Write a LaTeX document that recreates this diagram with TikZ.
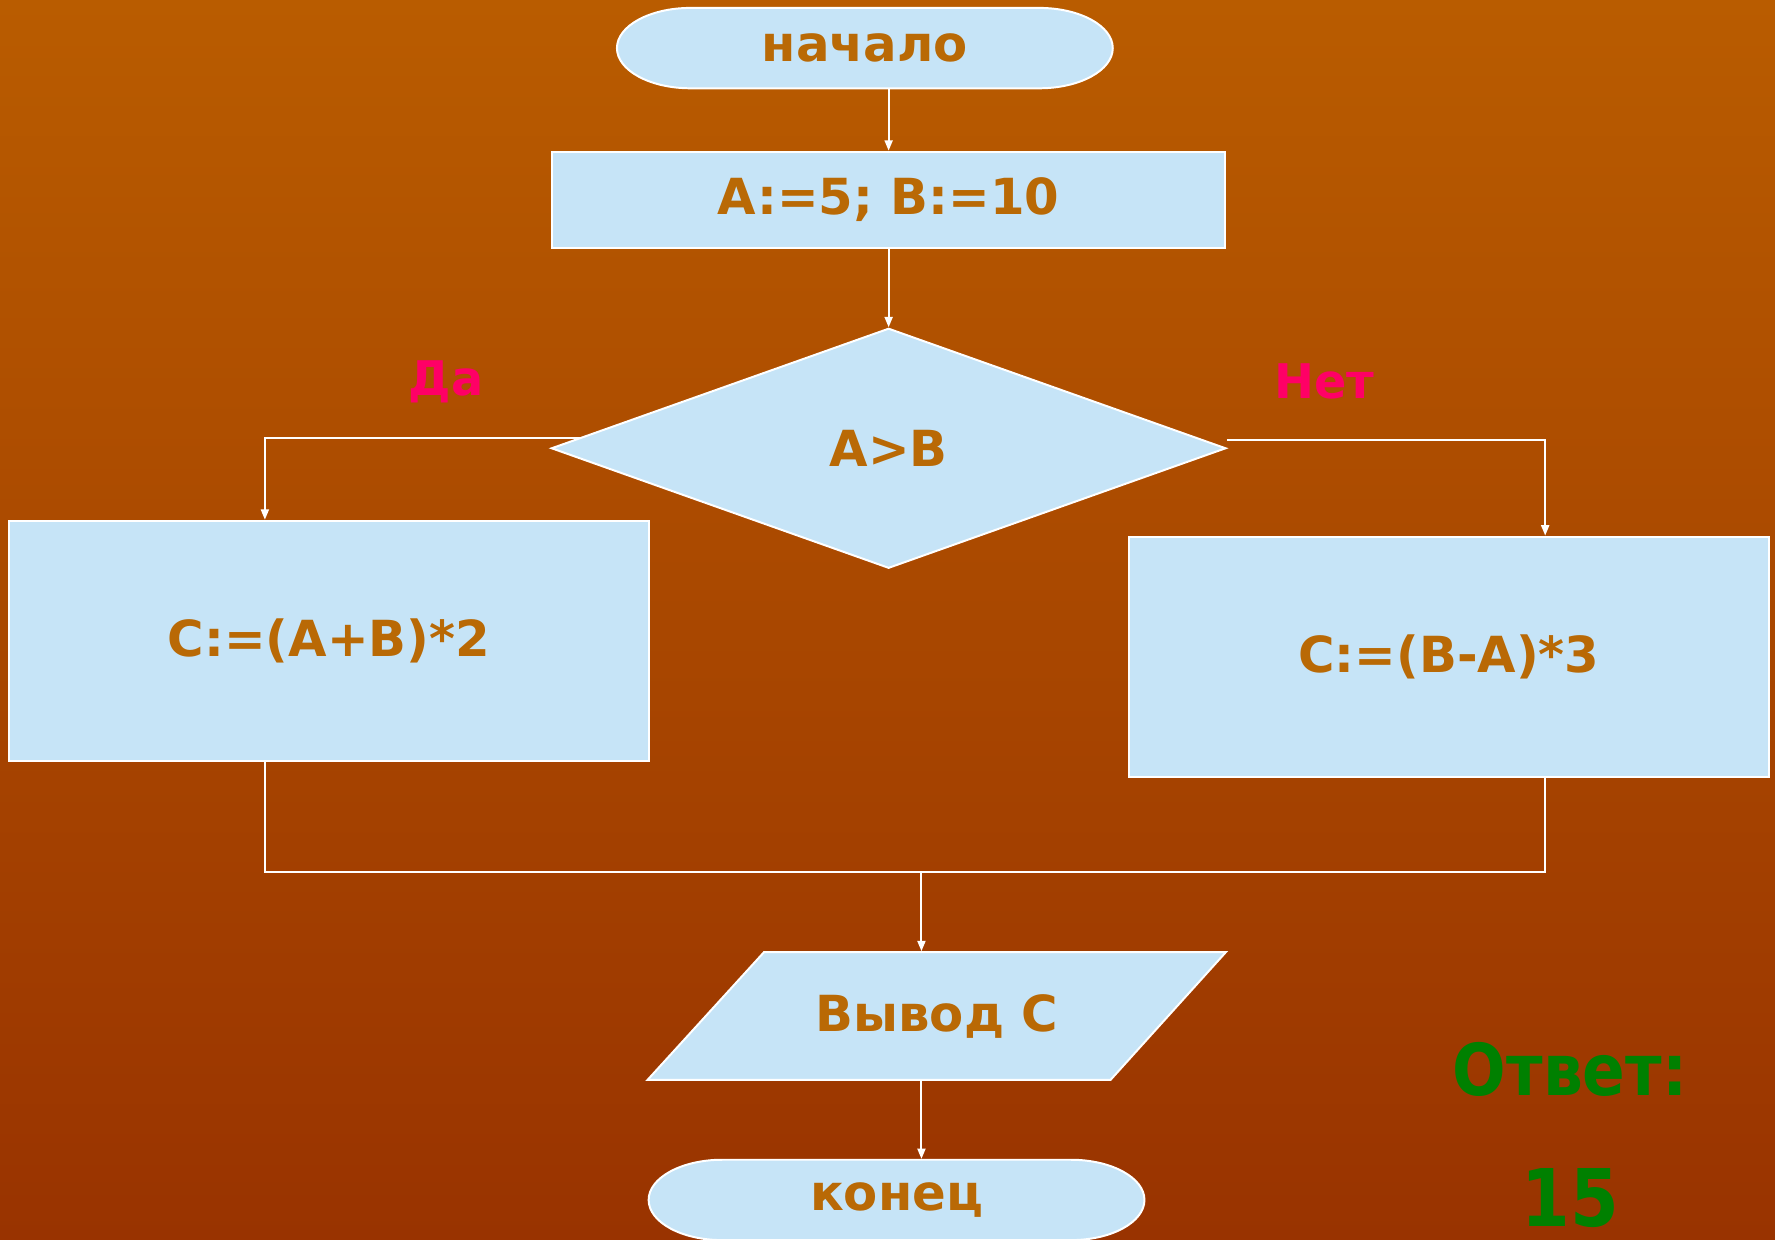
\documentclass[tikz,border=0pt]{standalone}
\usepackage{fontspec}
\setmainfont{DejaVu Sans}
\newfontfamily\answerfont{DejaVu Sans}[FakeStretch=0.88]
\usetikzlibrary{arrows.meta,shapes.geometric}
\definecolor{bgtop}{RGB}{185,92,0}
\definecolor{bgbot}{RGB}{153,51,0}
\definecolor{boxfill}{RGB}{198,228,247}
\definecolor{boxtext}{RGB}{185,105,5}
\definecolor{yesno}{RGB}{255,0,102}
\definecolor{answer}{RGB}{0,128,0}
\tikzset{>={Triangle[length=2.6pt,width=2pt]}}
\tikzset{
  boxfont/.style={text=boxtext,font=\fontsize{12.5}{15}\selectfont\bfseries},
  block/.style={rectangle,draw=white,line width=0.5pt,fill=boxfill,inner sep=0pt,boxfont},
  cond/.style={diamond,draw=white,line width=0.5pt,fill=boxfill,inner sep=0pt,
    minimum width=59.6mm,minimum height=21.2mm,boxfont},
  shapeline/.style={draw=white,line width=0.5pt,fill=boxfill},
  shapetext/.style={rectangle,inner sep=0pt,boxfont},
  branch/.style={text=yesno,font=\fontsize{12}{14}\selectfont\bfseries},
  reply/.style={text=answer,font=\answerfont\fontsize{18}{21}\selectfont\bfseries},
  link/.style={->,white,line width=0.5pt}
}
\begin{document}
\begin{tikzpicture}[x=0.1mm,y=0.1mm]
\fill[top color=bgtop,bottom color=bgbot] (0,0) rectangle (1568,1095);
\useasboundingbox (0,0) rectangle (1568,1095);
% start and stop outlines
\foreach \cx/\cy in {764/1052.5,792/35}
\draw[shapeline] (\cx-154,\cy+35.5) -- (\cx+154,\cy+35.5)
  arc[start angle=90,end angle=-90,x radius=6.5mm,y radius=3.55mm]
  -- (\cx-154,\cy-35.5)
  arc[start angle=270,end angle=90,x radius=6.5mm,y radius=3.55mm] -- cycle;
% output parallelogram
\draw[shapeline] (572,141) -- (675,254) -- (1083,254) -- (981,141) -- cycle;
\node[shapetext,minimum width=43.8mm,minimum height=7.1mm] (start) at (764,1052.5) {начало};
\node[block,minimum width=59.4mm,minimum height=8.5mm] (init) at (785,918.5) {A:=5; B:=10};
\node[cond] (dec) at (785,699) {A>B};
\node[block,minimum width=56.5mm,minimum height=21.2mm] (lbox) at (290.5,529) {C:=(A+B)*2};
\node[block,minimum width=56.6mm,minimum height=21.2mm] (rbox) at (1280,515) {C:=(B-A)*3};
\node[shapetext,minimum width=40.8mm,minimum height=11.3mm] (out) at (827.5,197.5) {Вывод C};
\node[shapetext,minimum width=43.8mm,minimum height=7.1mm] (stop) at (792,35) {конец};
\node[branch] (yes) at (394,758) {Да};
\node[branch] (no) at (1170,758) {Нет};
\node[reply] (ans) at (1387,150) {Ответ:};
\node[reply,font=\answerfont\fontsize{20}{24}\selectfont\bfseries] (val) at (1387,37) {15};
% connectors
\coordinate (mrg) at (814,325);
\draw[link] (start.south -| init.north) -- (init.north);
\draw[link] (init.south) -- (dec.north);
\draw[link] (dec.178.6) -| ([xshift=-5.65mm]lbox.north);
\draw[link] ([yshift=0.7mm]dec.east) -| ([xshift=8.5mm]rbox.north);
\draw[white,line width=0.5pt] ([xshift=-5.65mm]lbox.south) |- ([xshift=8.5mm]rbox.south |- mrg)
  -- ([xshift=8.5mm]rbox.south);
\draw[link] (mrg) -- (mrg |- out.north);
\draw[link] (out.south -| mrg) -- (mrg |- stop.north);
\end{tikzpicture}
\end{document}
